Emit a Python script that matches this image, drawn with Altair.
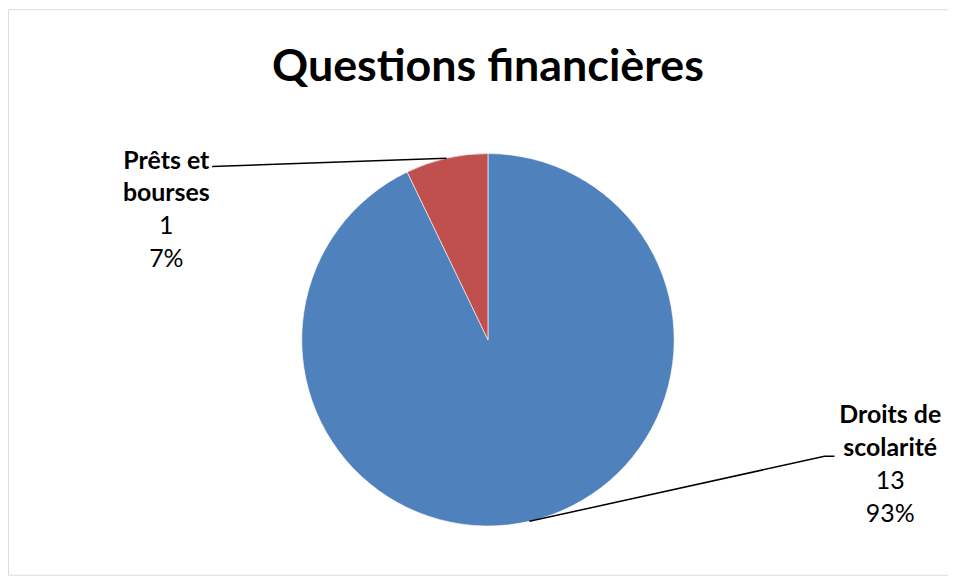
import math
import altair as alt
import pandas as pd

# ---- data ----
categories = ["Droits de scolarité", "Prêts et bourses"]
values = [13, 1]
colors = ["#4F81BD", "#C0504D"]
title_text = "Questions financières"
name_lines = [["Droits de", "scolarité"], ["Prêts et", "bourses"]]

# ---- layout constants ----
W, H = 944, 568
CX, CY, R = 482, 332, 187
label_anchor = {  # (text center x, first line y, leader end x, leader end y, elbow x)
    "Droits de scolarité": (886, 408, 820, 449, 830),
    "Prêts et bourses": (159, 152, 205, 158, 205),
}
LH = 33
FS = 25

total = sum(values)
pct = [round(v / total * 100) for v in values]

pie_df = pd.DataFrame({"cat": categories, "value": values, "idx": list(range(len(values)))})

# leader lines from slice midpoints (derived from values) to label anchors
line_rows = []
cum = 0
for i, (c, v) in enumerate(zip(categories, values)):
    mid = (cum + v / 2) / total * 2 * math.pi
    cum += v
    sx = CX + R * math.sin(mid)
    sy = CY - R * math.cos(mid)
    tx, ty, ex, ey, elx = label_anchor[c]
    line_rows += [
        {"cat": c, "o": 0, "x": sx, "y": sy},
        {"cat": c, "o": 1, "x": ex, "y": ey},
        {"cat": c, "o": 2, "x": elx, "y": ey},
    ]
line_df = pd.DataFrame(line_rows)

bold_rows, norm_rows = [], []
for i, c in enumerate(categories):
    tx, ty, *_ = label_anchor[c]
    bold_rows.append({"x": tx, "y": ty, "t": "\n".join(name_lines[i])})
    norm_rows.append({"x": tx, "y": ty + 2 * LH, "t": f"{values[i]}\n{pct[i]}%"})
bold_df = pd.DataFrame(bold_rows)
norm_df = pd.DataFrame(norm_rows)

xs = alt.Scale(domain=[0, W], nice=False, zero=False)
ys = alt.Scale(domain=[H, 0], nice=False, zero=False)

pie = alt.Chart(pie_df).mark_arc(radius=R, stroke="white", strokeWidth=0.6).encode(
    theta=alt.Theta("value:Q", stack=True),
    order=alt.Order("idx:Q"),
    color=alt.Color("cat:N", scale=alt.Scale(domain=categories, range=colors), legend=None),
    x=alt.value(CX),
    y=alt.value(CY),
)

lines = alt.Chart(line_df).mark_line(color="black", strokeWidth=1.5).encode(
    x=alt.X("x:Q", scale=xs, axis=None),
    y=alt.Y("y:Q", scale=ys, axis=None),
    detail="cat:N",
    order="o:Q",
)

bold = alt.Chart(bold_df).mark_text(
    font="Lato", fontSize=FS, fontWeight="bold", lineBreak="\n", lineHeight=LH,
    align="center", baseline="middle", color="black",
).encode(x=alt.X("x:Q", scale=xs, axis=None), y=alt.Y("y:Q", scale=ys, axis=None), text="t:N")

norm = alt.Chart(norm_df).mark_text(
    font="Lato", fontSize=FS, lineBreak="\n", lineHeight=LH,
    align="center", baseline="middle", color="black",
).encode(x=alt.X("x:Q", scale=xs, axis=None), y=alt.Y("y:Q", scale=ys, axis=None), text="t:N")

title = alt.Chart(pd.DataFrame({"t": [title_text]})).mark_text(
    font="Lato", fontSize=45, fontWeight="bold", align="center", baseline="alphabetic", color="black",
).encode(x=alt.value(482), y=alt.value(72), text="t:N")

chart = alt.layer(pie, lines, bold, norm, title).properties(
    width=W, height=H, padding=0, autosize=alt.AutoSizeParams(type="none")
).configure_view(stroke="#858585", strokeWidth=2).configure(background="white")

chart.save("out.html", embed_options={"renderer": "svg", "actions": False})
